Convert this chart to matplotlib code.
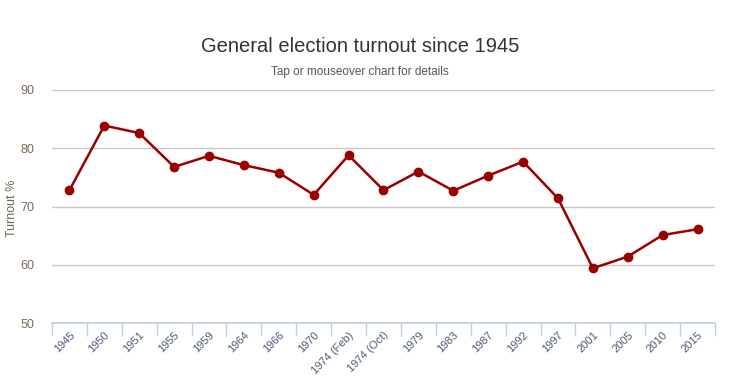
import numpy as np
import matplotlib.pyplot as plt

plt.rcParams['font.family'] = ['Liberation Sans', 'DejaVu Sans']

elections = ['1945', '1950', '1951', '1955', '1959', '1964', '1966', '1970',
             '1974 (Feb)', '1974 (Oct)', '1979', '1983', '1987', '1992',
             '1997', '2001', '2005', '2010', '2015']
turnout = [72.8, 83.9, 82.6, 76.8, 78.7, 77.1, 75.8, 72.0, 78.8, 72.8,
           76.0, 72.7, 75.3, 77.7, 71.4, 59.4, 61.4, 65.1, 66.1]

W, H = 749, 376
fig = plt.figure(figsize=(W / 100, H / 100), dpi=100)
ax = fig.add_axes([52 / W, 1 - 323 / H, (715 - 52) / W, (323 - 90) / H])

x = np.arange(len(elections))
ax.plot(x, turnout, color='#990000', lw=1.8, marker='o', ms=6, zorder=3)

ax.set_xlim(-0.5, len(elections) - 0.5)
ax.set_ylim(50, 90)
ax.set_yticks([50, 60, 70, 80, 90])
ax.grid(axis='y', color='#c8c8c8', lw=1)
ax.set_axisbelow(True)

for s in ['top', 'right', 'left']:
    ax.spines[s].set_visible(False)
ax.spines['bottom'].set_color('#c0d0e0')
ax.spines['bottom'].set_linewidth(1.2)

ax.set_xticks(np.arange(len(elections) + 1) - 0.5, minor=False)
ax.set_xticklabels([])
ax.tick_params(axis='x', which='major', length=9, color='#c0d0e0', width=1)
ax.set_xticks(x, minor=True)
ax.set_xticklabels(elections, minor=True, rotation=45, ha='right',
                   rotation_mode='anchor', fontsize=8, color='#4d5b75')
ax.tick_params(axis='x', which='minor', length=0, pad=5)
ax.tick_params(axis='y', length=0, labelsize=9, labelcolor='#7a6a50', pad=13)

fig.text(12 / W, 1 - 208 / H, 'Turnout %', rotation=90, ha='center',
         va='center', fontsize=9, color='#6a6a50')

fig.text(360 / W, 1 - 47 / H, 'General election turnout since 1945',
         ha='center', va='center', fontsize=14.5, color='#333333')
fig.text(360 / W, 1 - 72 / H, 'Tap or mouseover chart for details',
         ha='center', va='center', fontsize=8.5, color='#555555')

fig.savefig('out.png', dpi=100)
